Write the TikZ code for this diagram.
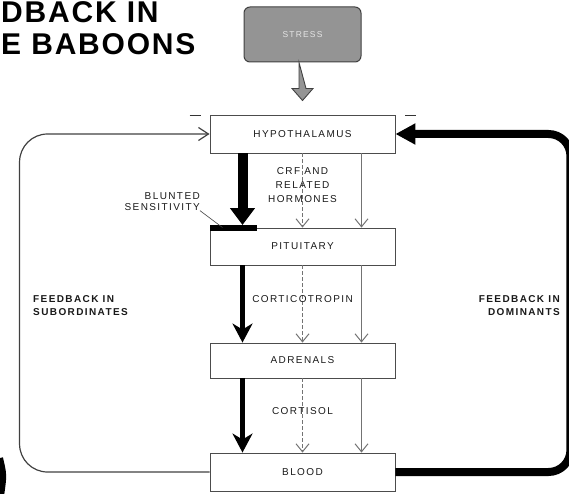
\documentclass[tikz,border=0pt]{standalone}
\usepackage{fontspec}
\setmainfont{Liberation Sans}
\newfontfamily\boxfont[LetterSpace=14]{Liberation Sans}
\newfontfamily\headfont[LetterSpace=6]{Liberation Sans}
\usetikzlibrary{arrows.meta}

\tikzset{
  organ/.style={draw=black!70,line width=0.9pt,minimum width=185pt,inner sep=0pt,
    font=\boxfont\fontsize{10}{12}\selectfont,text=black!90},
  stressbox/.style={draw=black!75,fill=black!42,line width=1pt,rounded corners=6pt,
    minimum width=117pt,minimum height=55pt,inner sep=0pt,
    font=\boxfont\fontsize{8.5}{9}\selectfont,text=white!90!black},
  note/.style={font=\boxfont\fontsize{10}{14}\selectfont,text=black!90,inner sep=0pt,align=center},
  fbnote/.style={font=\boxfont\bfseries\fontsize{10}{13}\selectfont,text=black!90,inner sep=0pt},
  title/.style={font=\headfont\bfseries\fontsize{30}{36}\selectfont,anchor=base west,inner sep=0pt},
  strongest/.style={black,line width=10pt,-{Triangle[length=17pt,width=24pt]}},
  strong/.style={black,line width=5pt,-{Stealth[length=19pt,width=20pt,inset=6pt]}},
  weak/.style={black!55,line width=1pt,-{Straight Barb[length=8pt,width=13pt]}},
  weakdash/.style={weak,dash pattern=on 4pt off 2pt},
  fbweak/.style={black!75,line width=1.2pt,-{Straight Barb[length=10pt,width=13pt]}},
  fbstrong/.style={black,line width=8pt,-{Triangle[length=20pt,width=20pt]}},
  minus/.style={black!80,line width=1.6pt},
}

\begin{document}
\begin{tikzpicture}[x=1pt,y=-1pt,>=Latex]
  \def\cx{302.5}
  \useasboundingbox (0,0) rectangle (569,494);

  % ================= title =================
  \node[title] (titleA) at (1,23) {DBACK IN};
  \node[title] (titleB) at (1,55) {E BABOONS};

  % ================= stress input =================
  \node[stressbox] (stress) at (\cx,34.5) {STRESS};
  \draw[black!75,fill=black!42,line width=0.9pt] ([xshift=-3.5pt]stress.south)
    -- ++(0,26) -- ++(-7,0) -- ++(10.5,12) -- ++(10.5,-12) -- ++(-7,0) -- cycle;

  % ================= organs =================
  \node[organ,minimum height=38pt] (hyp)   at (\cx,134)   {HYPOTHALAMUS};
  \node[organ,minimum height=37pt] (pit)   at (\cx,246.5) {PITUITARY};
  \node[organ,minimum height=35pt] (adr)   at (\cx,360.5) {ADRENALS};
  \node[organ,minimum height=38pt] (blood) at (\cx,472)   {BLOOD};

  % minus signs
  \draw[minus] ([xshift=-20pt,yshift=-1pt]hyp.north west) -- ++(11,0);
  \draw[minus] ([xshift=10pt,yshift=-1pt]hyp.north east) -- ++(11,0);

  % blunted sensitivity bar
  \fill[black] ([yshift=2.5pt]pit.north west) rectangle ([xshift=47pt,yshift=-3.5pt]pit.north west);

  % ================= hormone flow =================
  \draw[strongest] ([xshift=-60pt]hyp.south) -- ([xshift=-60pt,yshift=2.5pt]pit.north);
  \draw[weakdash] (hyp.south) -- (pit.north);
  \draw[weak] ([xshift=59pt]hyp.south) -- ([xshift=59pt]pit.north);
  \foreach \a/\b in {pit/adr,adr/blood} {
    \draw[strong] ([xshift=-60pt]\a.south) -- ([xshift=-60pt]\b.north);
    \draw[weakdash] (\a.south) -- (\b.north);
    \draw[weak] ([xshift=59pt]\a.south) -- ([xshift=59pt]\b.north);
  }

  \node[note] (crf)  at (\cx,185) {CRF AND\\RELATED\\HORMONES};
  \node[note] (acth) at (\cx,299) {CORTICOTROPIN};
  \node[note] (cort) at (\cx,411) {CORTISOL};

  \node[note,font=\boxfont\fontsize{10}{11}\selectfont,align=right,anchor=east] (blunt)
    at (200,201.5) {BLUNTED\\SENSITIVITY};
  \draw[black!75,line width=0.6pt] (blunt.south east) -- ([xshift=13pt]pit.north west);

  % ================= feedback loops =================
  \draw[fbweak,rounded corners=28pt] (blood.west) -- ++(-190,0) |- (hyp.west);
  \draw[fbstrong,rounded corners=22pt] (blood.east) -- ++(175,0) |- (hyp.east);

  \node[fbnote,align=left,anchor=west] (fbsub) at (33,305.5) {FEEDBACK IN\\SUBORDINATES};
  \node[fbnote,align=right,anchor=east] (fbdom) at (560,305.5) {FEEDBACK IN\\DOMINANTS};

  % piece of a neighbouring figure at the lower left
  \draw[black,line width=6pt] (0,458) .. controls (4,475) .. (1,496);

\end{tikzpicture}
\end{document}
